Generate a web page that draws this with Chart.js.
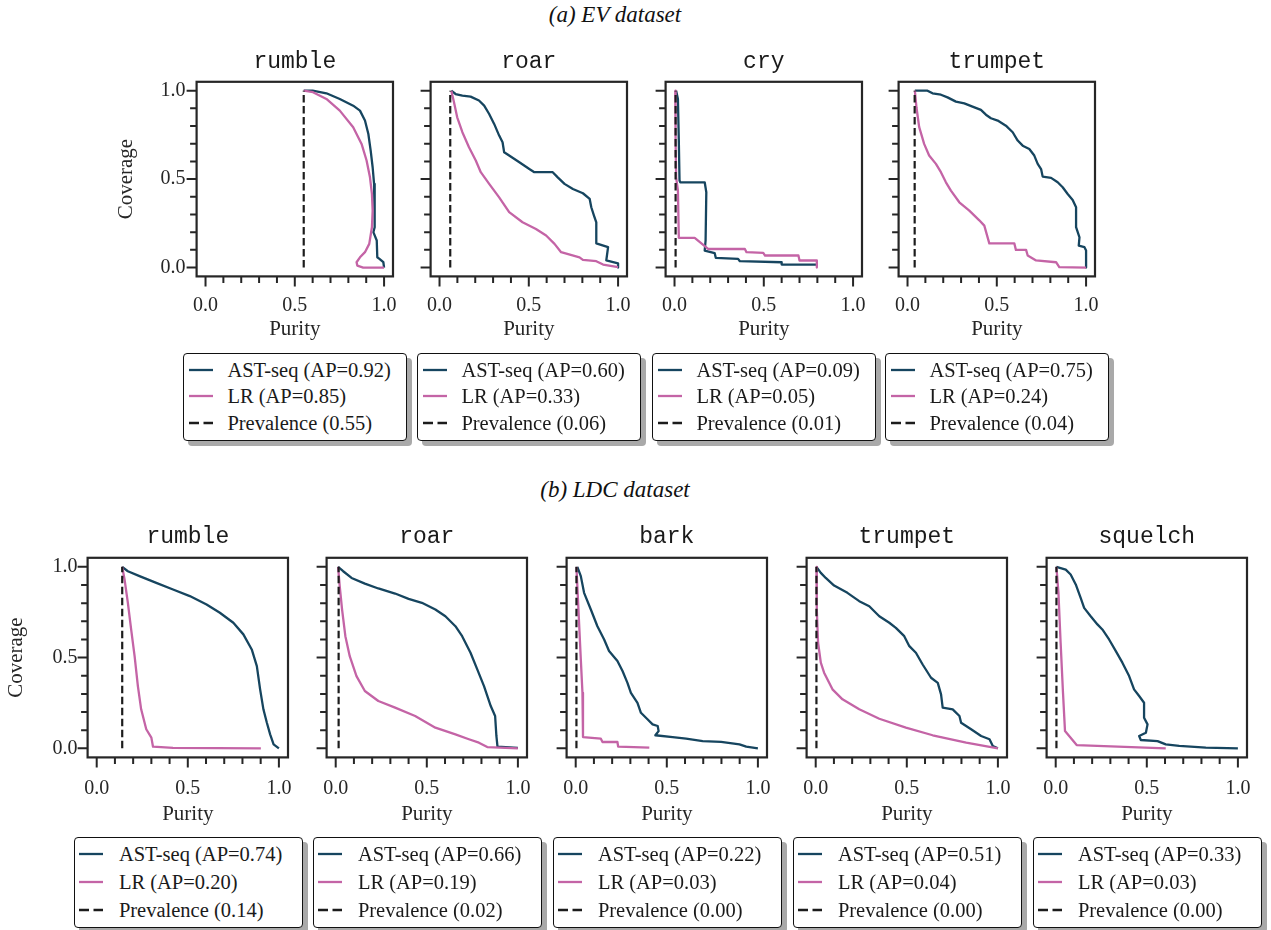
<!DOCTYPE html>
<html>
<head>
<meta charset="utf-8">
<script src="https://cdn.jsdelivr.net/npm/chart.js@4.4.1/dist/chart.umd.min.js"></script>
<style>
  html, body { margin: 0; padding: 0; background: #fff; }
  body { position: relative; width: 1271px; height: 930px; overflow: hidden; font-family: "Liberation Serif", serif; color: #262626; }
  canvas { position: absolute; }
  .sup { position: absolute; font-family: "Liberation Serif", serif; font-style: italic; font-size: 23px; color: #111; white-space: nowrap; transform: translate(-50%, -50%); }
  .leg { position: absolute; box-sizing: border-box; background: #fff; border: 1.6px solid #111; border-radius: 4px; box-shadow: 5px 5px 0 #a9a9a9; }
  .leg .row { position: absolute; left: 0; height: 0; }
  .leg svg { position: absolute; top: -3px; }
  .leg span { position: absolute; top: 0; transform: translateY(-50%); font-size: 20.5px; line-height: 1; white-space: nowrap; color: #1a1a1a; }
</style>
</head>
<body>
<script>
// ---------------- data ----------------
const evCategories = ['rumble', 'roar', 'cry', 'trumpet'];
const ldcCategories = ['rumble', 'roar', 'bark', 'trumpet', 'squelch'];

const evAstAp = [0.92, 0.60, 0.09, 0.75];
const evLrAp = [0.85, 0.33, 0.05, 0.24];
const evPrevalence = [0.55, 0.06, 0.006, 0.04];

const ldcAstAp = [0.74, 0.66, 0.22, 0.51, 0.33];
const ldcLrAp = [0.20, 0.19, 0.03, 0.04, 0.03];
const ldcPrevalence = [0.14, 0.016, 0.004, 0.004, 0.004];

const tickValues = [0, 0.1, 0.2, 0.3, 0.4, 0.5, 0.6, 0.7, 0.8, 0.9, 1.0];
const tickLabelValues = [0, 0.5, 1.0];

// curves: [purity, coverage]
const evRumbleAst = [[0.55,1.0],[0.60,1.0],[0.677,0.985],[0.752,0.953],[0.827,0.915],[0.865,0.887],[0.893,0.831],[0.912,0.755],[0.925,0.661],[0.936,0.567],[0.944,0.473],[0.949,0.379],[0.949,0.303],[0.944,0.228],[0.94,0.2],[0.959,0.153],[0.962,0.058],[0.974,0.049],[0.996,0.03],[1.0,0.0]];
const evRumbleLr = [[0.55,1.0],[0.602,0.991],[0.677,0.953],[0.752,0.887],[0.827,0.793],[0.874,0.699],[0.902,0.605],[0.921,0.51],[0.932,0.416],[0.936,0.322],[0.932,0.228],[0.917,0.134],[0.893,0.087],[0.865,0.058],[0.846,0.03],[0.85,0.011],[0.883,0.0],[1.0,0.0]];

const evRoarAst = [[0.066,1.0],[0.09,0.981],[0.128,0.972],[0.174,0.966],[0.221,0.944],[0.25,0.915],[0.278,0.868],[0.306,0.812],[0.334,0.746],[0.353,0.708],[0.362,0.652],[0.39,0.633],[0.447,0.595],[0.503,0.557],[0.531,0.539],[0.634,0.539],[0.662,0.51],[0.7,0.473],[0.747,0.444],[0.803,0.42],[0.841,0.388],[0.85,0.341],[0.865,0.294],[0.878,0.256],[0.878,0.137],[0.944,0.115],[0.934,0.04],[1.0,0.024],[1.0,0.0]];
const evRoarLr = [[0.066,1.0],[0.081,0.934],[0.099,0.849],[0.128,0.765],[0.165,0.68],[0.203,0.605],[0.231,0.539],[0.278,0.473],[0.334,0.397],[0.39,0.313],[0.465,0.256],[0.54,0.218],[0.597,0.181],[0.644,0.134],[0.681,0.087],[0.784,0.058],[0.803,0.043],[0.878,0.036],[0.916,0.017],[1.0,0.002]];

const evCryAst = [[0.009,1.0],[0.019,0.953],[0.024,0.718],[0.028,0.492],[0.032,0.482],[0.169,0.482],[0.178,0.426],[0.174,0.153],[0.169,0.096],[0.225,0.081],[0.231,0.055],[0.356,0.049],[0.366,0.036],[0.6,0.03],[0.6,0.017],[0.794,0.017]];
const evCryLr = [[0.004,1.0],[0.006,0.718],[0.009,0.51],[0.019,0.435],[0.024,0.168],[0.113,0.168],[0.159,0.13],[0.188,0.105],[0.394,0.105],[0.403,0.087],[0.497,0.083],[0.507,0.068],[0.694,0.068],[0.7,0.04],[0.797,0.04],[0.797,0.0]];

const evTrumpetAst = [[0.041,1.0],[0.112,1.0],[0.14,0.985],[0.187,0.977],[0.224,0.962],[0.271,0.938],[0.318,0.928],[0.364,0.91],[0.411,0.891],[0.439,0.864],[0.467,0.844],[0.505,0.831],[0.551,0.802],[0.589,0.765],[0.617,0.718],[0.645,0.689],[0.682,0.67],[0.71,0.633],[0.729,0.586],[0.748,0.557],[0.757,0.514],[0.804,0.507],[0.841,0.482],[0.869,0.454],[0.897,0.416],[0.925,0.382],[0.944,0.341],[0.944,0.228],[0.963,0.171],[0.959,0.124],[0.991,0.115],[1.0,0.096],[1.0,0.0]];
const evTrumpetLr = [[0.041,1.0],[0.05,0.906],[0.065,0.795],[0.093,0.699],[0.121,0.633],[0.159,0.586],[0.187,0.539],[0.215,0.482],[0.243,0.435],[0.29,0.369],[0.346,0.322],[0.402,0.267],[0.43,0.237],[0.458,0.137],[0.598,0.137],[0.607,0.1],[0.664,0.1],[0.673,0.068],[0.72,0.04],[0.832,0.03],[0.85,0.002],[1.0,0.0]];

const ldcRumbleAst = [[0.14,1.0],[0.171,0.976],[0.235,0.949],[0.327,0.912],[0.419,0.875],[0.511,0.839],[0.603,0.793],[0.676,0.747],[0.75,0.692],[0.805,0.628],[0.851,0.545],[0.879,0.453],[0.897,0.325],[0.915,0.215],[0.934,0.141],[0.952,0.077],[0.971,0.022],[1.0,0.0]];
const ldcRumbleLr = [[0.14,1.0],[0.153,0.93],[0.171,0.802],[0.189,0.655],[0.208,0.508],[0.226,0.343],[0.244,0.215],[0.272,0.105],[0.3,0.059],[0.309,0.009],[0.419,0.002],[0.901,0.0]];

const ldcRoarAst = [[0.013,1.0],[0.041,0.976],[0.087,0.939],[0.16,0.908],[0.234,0.881],[0.326,0.853],[0.4,0.824],[0.473,0.802],[0.547,0.765],[0.602,0.728],[0.657,0.673],[0.694,0.618],[0.74,0.527],[0.777,0.435],[0.814,0.343],[0.851,0.233],[0.875,0.178],[0.882,0.068],[0.888,0.009],[1.0,0.002]];
const ldcRoarLr = [[0.013,1.0],[0.022,0.894],[0.035,0.765],[0.053,0.618],[0.077,0.508],[0.114,0.398],[0.16,0.316],[0.234,0.261],[0.326,0.224],[0.436,0.178],[0.547,0.114],[0.657,0.077],[0.731,0.05],[0.786,0.031],[0.832,0.007],[1.0,0.0]];

const ldcBarkAst = [[0.009,1.0],[0.028,0.949],[0.046,0.857],[0.083,0.765],[0.119,0.673],[0.156,0.6],[0.183,0.536],[0.229,0.481],[0.257,0.426],[0.284,0.361],[0.303,0.306],[0.339,0.251],[0.358,0.196],[0.394,0.16],[0.422,0.132],[0.45,0.123],[0.455,0.095],[0.437,0.072],[0.532,0.062],[0.606,0.053],[0.697,0.04],[0.798,0.035],[0.899,0.022],[0.936,0.009],[1.0,0.0]];
const ldcBarkLr = [[0.004,1.0],[0.015,0.765],[0.028,0.49],[0.037,0.306],[0.04,0.062],[0.138,0.053],[0.147,0.035],[0.229,0.035],[0.233,0.009],[0.404,0.004]];

const ldcTrumpetAst = [[0.004,1.0],[0.028,0.967],[0.055,0.939],[0.101,0.897],[0.174,0.857],[0.239,0.811],[0.294,0.783],[0.349,0.728],[0.404,0.692],[0.44,0.664],[0.486,0.618],[0.514,0.563],[0.55,0.527],[0.587,0.462],[0.633,0.389],[0.67,0.361],[0.688,0.297],[0.697,0.224],[0.752,0.215],[0.789,0.178],[0.798,0.141],[0.853,0.105],[0.908,0.068],[0.954,0.05],[0.972,0.013],[1.0,0.0]];
const ldcTrumpetLr = [[0.004,1.0],[0.006,0.765],[0.013,0.582],[0.028,0.472],[0.046,0.417],[0.092,0.325],[0.147,0.27],[0.239,0.215],[0.349,0.163],[0.495,0.114],[0.642,0.072],[0.826,0.031],[1.0,0.0]];

const ldcSquelchAst = [[0.004,1.0],[0.055,0.985],[0.082,0.958],[0.11,0.903],[0.137,0.829],[0.156,0.774],[0.192,0.728],[0.229,0.683],[0.256,0.655],[0.293,0.6],[0.33,0.536],[0.366,0.472],[0.403,0.398],[0.43,0.325],[0.458,0.288],[0.485,0.251],[0.485,0.169],[0.504,0.132],[0.495,0.086],[0.458,0.068],[0.467,0.046],[0.559,0.04],[0.604,0.022],[0.678,0.013],[0.824,0.004],[1.0,0.0]];
const ldcSquelchLr = [[0.004,1.0],[0.015,0.857],[0.027,0.582],[0.04,0.306],[0.051,0.095],[0.115,0.018],[0.604,0.0]];

// ---------------- styling / layout ----------------
const AST_COLOR = '#16455f';
const LR_COLOR = '#c464a6';
const PREV_COLOR = '#1c1c1c';
const INK = '#262626';

const rows = [
  {
    cats: evCategories, ast: [evRumbleAst, evRoarAst, evCryAst, evTrumpetAst],
    lr: [evRumbleLr, evRoarLr, evCryLr, evTrumpetLr],
    prev: evPrevalence, astAp: evAstAp, lrAp: evLrAp,
    lay: { boxLefts: [197, 431, 666, 899], boxTop: 81.5, boxW: 196, boxH: 195,
           wy: 82.6, ht: 33.8, hx: 65.6, xpad: 17.5, ypad: 11,
           legTop: 353, legW: 224, legH: 88, legRows: [17.5, 44, 71], sampleX: 7, textX: 45 },
    sup: { text: '(a) EV dataset', x: 615, y: 15 }
  },
  {
    cats: ldcCategories, ast: [ldcRumbleAst, ldcRoarAst, ldcBarkAst, ldcTrumpetAst, ldcSquelchAst],
    lr: [ldcRumbleLr, ldcRoarLr, ldcBarkLr, ldcTrumpetLr, ldcSquelchLr],
    prev: ldcPrevalence, astAp: ldcAstAp, lrAp: ldcLrAp,
    lay: { boxLefts: [88, 327, 567, 807, 1047], boxTop: 558, boxW: 200, boxH: 200,
           wy: 83.6, ht: 34.8, hx: 69.6, xpad: 19, ypad: 10,
           legTop: 837, legW: 229, legH: 91, legRows: [17.5, 45.5, 73.5], sampleX: 6, textX: 46 },
    sup: { text: '(b) LDC dataset', x: 615, y: 490 }
  }
];

const isMajor = v => Math.abs(v * 2 - Math.round(v * 2)) < 1e-6;

const framePlugin = {
  id: 'frame',
  afterDraw(chart) {
    const { ctx, chartArea: a, scales: { x, y } } = chart;
    ctx.save();
    ctx.strokeStyle = INK;
    ctx.lineWidth = 2;
    ctx.lineCap = 'butt';
    ctx.beginPath();
    x.ticks.forEach(t => {
      const p = x.getPixelForValue(t.value);
      const L = isMajor(t.value) ? 10 : 6.5;
      ctx.moveTo(p, a.bottom); ctx.lineTo(p, a.bottom + L);
    });
    y.ticks.forEach(t => {
      const p = y.getPixelForValue(t.value);
      const L = isMajor(t.value) ? 10 : 6.5;
      ctx.moveTo(a.left, p); ctx.lineTo(a.left - L, p);
    });
    ctx.stroke();
    ctx.lineWidth = 2.2;
    ctx.strokeRect(a.left, a.top, a.right - a.left, a.bottom - a.top);
    ctx.restore();
  }
};

const toPts = arr => arr.map(([x, y]) => ({ x, y }));
const setTicks = s => { s.ticks = tickValues.map(v => ({ value: v })); };
const tickFont = { family: 'Liberation Serif', size: 20 };
const titleFont = { family: 'Liberation Serif', size: 21 };

function makeChart(row, i) {
  const L = row.lay;
  const rightPad = 34;
  const cw = Math.round(L.wy + L.boxW + rightPad);
  const ch = Math.round(L.ht + L.boxH + L.hx);
  const canvas = document.createElement('canvas');
  canvas.width = cw; canvas.height = ch;
  canvas.style.left = (L.boxLefts[i] - L.wy) + 'px';
  canvas.style.top = (L.boxTop - L.ht) + 'px';
  canvas.style.width = cw + 'px';
  canvas.style.height = ch + 'px';
  document.body.appendChild(canvas);
  const first = i === 0;
  const titleSize = 23;
  new Chart(canvas, {
    type: 'scatter',
    data: {
      datasets: [
        { label: 'AST-seq', data: toPts(row.ast[i]), showLine: true, borderColor: AST_COLOR, backgroundColor: AST_COLOR,
          borderWidth: 2.3, pointRadius: 0, borderJoinStyle: 'round', order: 3 },
        { label: 'LR', data: toPts(row.lr[i]), showLine: true, borderColor: LR_COLOR, backgroundColor: LR_COLOR,
          borderWidth: 2.3, pointRadius: 0, borderJoinStyle: 'round', order: 2 },
        { label: 'Prevalence', data: [{ x: row.prev[i], y: 0 }, { x: row.prev[i], y: 1 }], showLine: true,
          borderColor: PREV_COLOR, borderWidth: 2.2, borderDash: [7.5, 3.5], pointRadius: 0, order: 1 }
      ]
    },
    options: {
      responsive: false, animation: false, devicePixelRatio: 1,
      layout: { padding: { left: 0, right: cw - Math.round(L.wy + L.boxW), top: 0, bottom: 0 } },
      plugins: {
        legend: { display: false },
        tooltip: { enabled: false },
        title: { display: true, text: row.cats[i], fullSize: false, color: '#1a1a1a',
                 font: { family: 'Liberation Mono', size: titleSize, weight: 'normal' },
                 padding: { top: 0, bottom: L.ht - titleSize * 1.2 } }
      },
      scales: {
        x: {
          type: 'linear', min: -0.05, max: 1.05,
          afterBuildTicks: setTicks,
          afterFit: s => { s.height = L.hx; },
          grid: { display: false, drawTicks: false }, border: { display: false },
          ticks: { autoSkip: false, maxRotation: 0, padding: L.xpad, font: tickFont, color: INK,
                   callback: v => tickLabelValues.some(m => Math.abs(m - v) < 1e-6) ? v.toFixed(1) : '' },
          title: { display: true, text: 'Purity', font: titleFont, color: INK, padding: 0 }
        },
        y: {
          type: 'linear', min: -0.05, max: 1.05,
          afterBuildTicks: setTicks,
          afterFit: s => { s.width = L.wy; },
          grid: { display: false, drawTicks: false }, border: { display: false },
          ticks: { autoSkip: false, padding: L.ypad, font: tickFont, color: INK,
                   callback: v => (first && tickLabelValues.some(m => Math.abs(m - v) < 1e-6)) ? v.toFixed(1) : '' },
          title: { display: first, text: 'Coverage', font: titleFont, color: INK, padding: 0 }
        }
      }
    },
    plugins: [framePlugin]
  });
}

function makeLegend(row, i) {
  const L = row.lay;
  const cx = L.boxLefts[i] + L.boxW / 2;
  const leg = document.createElement('div');
  leg.className = 'leg';
  leg.style.left = (cx - L.legW / 2) + 'px';
  leg.style.top = L.legTop + 'px';
  leg.style.width = L.legW + 'px';
  leg.style.height = L.legH + 'px';
  const entries = [
    { text: `AST-seq (AP=${row.astAp[i].toFixed(2)})`, color: AST_COLOR, dash: '' },
    { text: `LR (AP=${row.lrAp[i].toFixed(2)})`, color: LR_COLOR, dash: '' },
    { text: `Prevalence (${row.prev[i].toFixed(2)})`, color: PREV_COLOR, dash: '10,4.5' }
  ];
  entries.forEach((e, k) => {
    const r = document.createElement('div');
    r.className = 'row';
    r.style.top = (L.legRows[k] - 1.6) + 'px';
    r.innerHTML = `<svg width="26" height="6" style="left:${L.sampleX - 1.6}px"><line x1="0" y1="3" x2="24" y2="3" stroke="${e.color}" stroke-width="2.3"${e.dash ? ` stroke-dasharray="${e.dash}"` : ''}/></svg>` +
      `<span style="left:${L.textX - 1.6}px">${e.text}</span>`;
    leg.appendChild(r);
  });
  document.body.appendChild(leg);
}

rows.forEach(row => {
  const s = document.createElement('div');
  s.className = 'sup';
  s.style.left = row.sup.x + 'px';
  s.style.top = row.sup.y + 'px';
  s.textContent = row.sup.text;
  document.body.appendChild(s);
  row.cats.forEach((c, i) => { makeChart(row, i); makeLegend(row, i); });
});
</script>
</body>
</html>
